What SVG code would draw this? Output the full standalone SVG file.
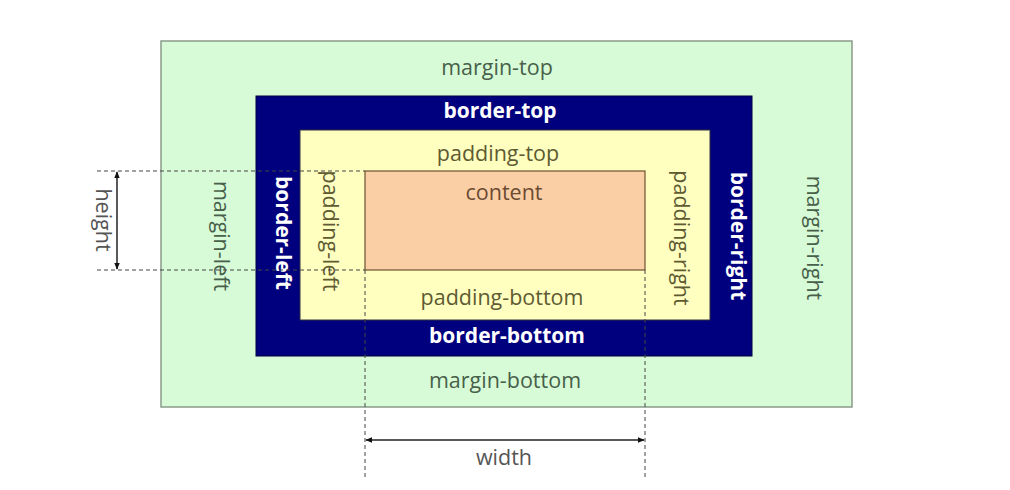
<svg xmlns="http://www.w3.org/2000/svg" width="1010" height="490" viewBox="0 0 1010 490">
<style>
text{font-family:"Open Sans","Noto Sans",sans-serif;font-size:21.5px;text-anchor:middle;dominant-baseline:central}
.m{fill:#47604a}
.b{fill:#ffffff;font-weight:bold;font-size:21px}
.p{fill:#5e5a32}
.c{fill:#6b4a32}
.d{fill:#555555}
.dash{stroke:#444;stroke-width:1;stroke-dasharray:4 3;fill:none}
.arr{stroke:#222;stroke-width:1.5;fill:none;marker-start:url(#ah);marker-end:url(#ah)}
</style>
<defs>
<marker id="ah" viewBox="0 0 10 10" refX="9" refY="5" markerWidth="7" markerHeight="7" orient="auto-start-reverse" markerUnits="userSpaceOnUse">
<path d="M0,1 L10,5 L0,9 z" fill="#111"/>
</marker>
</defs>
<rect width="1010" height="490" fill="#ffffff"/>
<g id="margin">
<rect x="161" y="41" width="691" height="366" fill="#d7fbd7" stroke="#8a9a8a" stroke-width="1.5"/>
<text class="m" x="497" y="66">margin-top</text>
<text class="m" x="505" y="379">margin-bottom</text>
<text class="m" transform="translate(222,236) rotate(90)">margin-left</text>
<text class="m" transform="translate(815,238) rotate(90)">margin-right</text>
</g>
<g id="border">
<rect x="256" y="96" width="496" height="260" fill="#00007e" stroke="#000040" stroke-width="1"/>
<text class="b" x="500" y="110">border-top</text>
<text class="b" x="507" y="335">border-bottom</text>
<text class="b" transform="translate(284,233) rotate(90)">border-left</text>
<text class="b" transform="translate(739,236) rotate(90)">border-right</text>
</g>
<g id="padding">
<rect x="300" y="130" width="410" height="190" fill="#ffffc0" stroke="#303040" stroke-width="1"/>
<text class="p" x="498" y="152">padding-top</text>
<text class="p" x="502" y="296">padding-bottom</text>
<text class="p" transform="translate(331,231) rotate(90)">padding-left</text>
<text class="p" transform="translate(682,238) rotate(90)">padding-right</text>
</g>
<g id="content">
<rect x="365" y="171" width="280" height="99" fill="#fbcfa6" stroke="#6b5030" stroke-width="1.2"/>
<text class="c" x="504" y="191">content</text>
</g>
<g id="connectors">
<line class="dash" x1="97" y1="171" x2="365" y2="171"/>
<line class="dash" x1="97" y1="270" x2="365" y2="270"/>
<line class="dash" x1="365" y1="270" x2="365" y2="478"/>
<line class="dash" x1="645" y1="270" x2="645" y2="478"/>
<line class="arr" x1="117" y1="172" x2="117" y2="269"/>
<line class="arr" x1="366" y1="440" x2="644" y2="440"/>
</g>
<g id="labels">
<text class="d" x="504" y="456">width</text>
<text class="d" transform="translate(104,220) rotate(90)">height</text>
</g>
</svg>
